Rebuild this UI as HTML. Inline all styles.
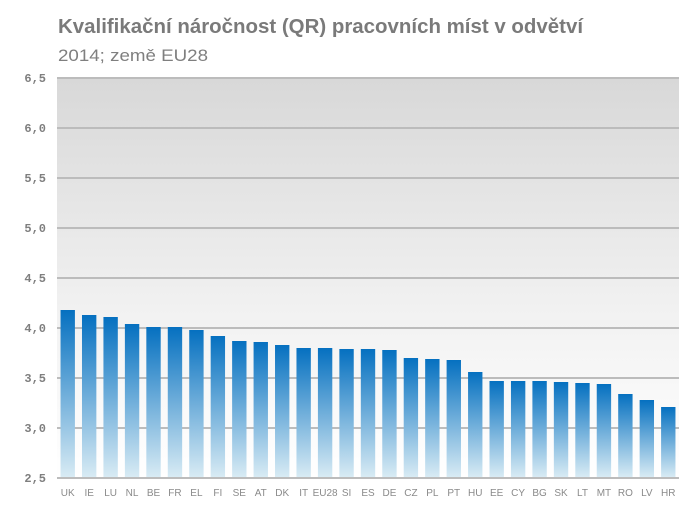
<!DOCTYPE html>
<html><head><meta charset="utf-8"><style>
body{margin:0;background:#fff;}
svg{display:block;}
</style></head><body>
<svg id="chart" width="696" height="519" viewBox="0 0 696 519" xmlns="http://www.w3.org/2000/svg">
<defs>
<linearGradient id="bg" x1="0" y1="0" x2="0" y2="1">
<stop offset="0" stop-color="#d8d8d8"/><stop offset="0.6" stop-color="#f2f2f2"/><stop offset="1" stop-color="#ffffff"/>
</linearGradient>
<linearGradient id="barg" x1="0" y1="0" x2="0" y2="1">
<stop offset="0" stop-color="#0570c0"/><stop offset="1" stop-color="#d8ebf4"/>
</linearGradient>
</defs>
<text x="58" y="33" font-family="Liberation Sans, sans-serif" font-weight="bold" font-size="20" fill="#7a7a7a" textLength="525" lengthAdjust="spacingAndGlyphs">Kvalifikační náročnost (QR)  pracovních míst v odvětví</text>
<text x="58" y="61" font-family="Liberation Sans, sans-serif" font-size="17" fill="#7f7f7f" textLength="150" lengthAdjust="spacingAndGlyphs">2014; země EU28</text>
<rect x="57" y="78" width="622" height="400" fill="url(#bg)"/>
<g id="grid"></g>
<g id="bars"></g>
<g id="labels"></g>
</svg>
<script>
const categories=["UK","IE","LU","NL","BE","FR","EL","FI","SE","AT","DK","IT","EU28","SI","ES","DE","CZ","PL","PT","HU","EE","CY","BG","SK","LT","MT","RO","LV","HR"];
const values=[4.18,4.13,4.11,4.04,4.01,4.01,3.98,3.92,3.87,3.86,3.83,3.80,3.80,3.79,3.79,3.78,3.70,3.69,3.68,3.56,3.47,3.47,3.47,3.46,3.45,3.44,3.34,3.28,3.21];
const ticks=[2.5,3.0,3.5,4.0,4.5,5.0,5.5,6.0,6.5];
const tickLabels=["2,5","3,0","3,5","4,0","4,5","5,0","5,5","6,0","6,5"];
const NS="http://www.w3.org/2000/svg";
const X0=57,X1=679,Y0=478,Y1=78,VMIN=2.5,VMAX=6.5;
function y(v){return Y0-(v-VMIN)/(VMAX-VMIN)*(Y0-Y1);}
const band=(X1-X0)/categories.length;
function x(i){return X0+i*band;}
const grid=document.getElementById('grid'),bars=document.getElementById('bars'),labels=document.getElementById('labels');
ticks.forEach((t,i)=>{
  const l=document.createElementNS(NS,'line');
  
  
  l.setAttribute('x1',X0);l.setAttribute('x2',X1);l.setAttribute('y1',y(t));l.setAttribute('y2',y(t));
  l.setAttribute('stroke','#bcbcbc');l.setAttribute('stroke-width','2');
  grid.appendChild(l);
  const tx=document.createElementNS(NS,'text');
  
  
  tx.setAttribute('x',46);tx.setAttribute('y',y(t)+4);tx.setAttribute('text-anchor','end');
  tx.setAttribute('font-family','Liberation Mono, monospace');tx.setAttribute('font-size','12');tx.setAttribute('fill','#7f7f7f');tx.setAttribute('font-weight','bold');
  tx.textContent=tickLabels[i];
  labels.appendChild(tx);
});
categories.forEach((c,i)=>{
  const bw=band*0.67;
  const r=document.createElementNS(NS,'rect');
  
  
  r.setAttribute('x',x(i)+(band-bw)/2);r.setAttribute('width',bw);
  r.setAttribute('y',y(values[i]));r.setAttribute('height',Y0-1-y(values[i]));
  r.setAttribute('fill','url(#barg)');
  bars.appendChild(r);
  const tx=document.createElementNS(NS,'text');
  
  
  tx.setAttribute('x',x(i)+band/2);tx.setAttribute('y',496);tx.setAttribute('text-anchor','middle');
  tx.setAttribute('font-family','Liberation Sans, sans-serif');tx.setAttribute('font-size','10');tx.setAttribute('fill','#8a8a8a');
  tx.textContent=c;
  labels.appendChild(tx);
});
</script>
</body></html>
